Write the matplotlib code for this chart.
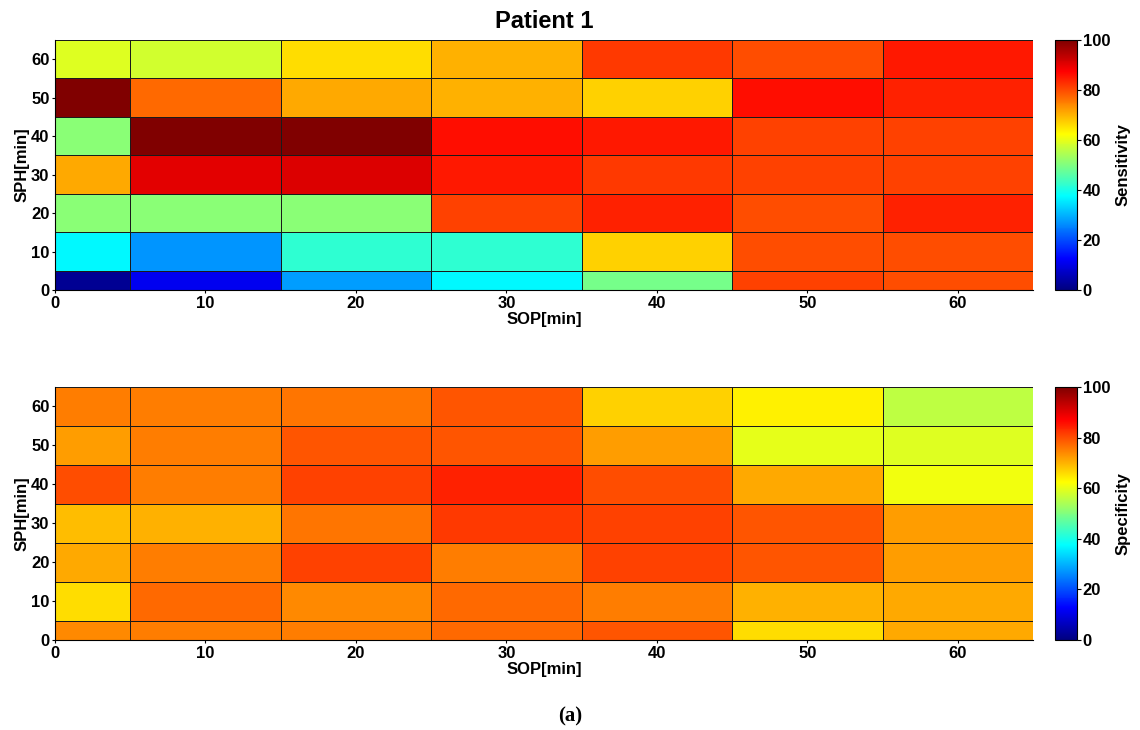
import numpy as np
import matplotlib
matplotlib.use('Agg')
import matplotlib.pyplot as plt
from matplotlib.colors import LinearSegmentedColormap

plt.rcParams['font.family'] = ['Liberation Sans', 'DejaVu Sans']
plt.rcParams['font.weight'] = 'bold'

# cell edges (minutes) for SOP (x) and SPH (y)
sop_edges = [0, 5, 15, 25, 35, 45, 55, 65]
sph_edges = [0, 5, 15, 25, 35, 45, 55, 65]
ticks = [0, 10, 20, 30, 40, 50, 60]

# rows = SPH 0,10,...,60 (bottom to top); cols = SOP 0,10,...,60
sensitivity = [
    [2, 11, 28, 37, 49, 81, 80],
    [37, 27, 42, 42, 67, 80, 80],
    [51, 51, 51, 81, 84, 80, 84],
    [71, 90, 91, 85, 82, 81, 81],
    [51, 100, 100, 86, 85, 81, 81],
    [100, 77, 71, 70, 67, 86, 84],
    [59, 58, 66, 70, 82, 80, 85],
]
specificity = [
    [74, 75, 75, 77, 79, 66, 71],
    [66, 77, 74, 77, 75, 70, 71],
    [71, 75, 81, 75, 81, 79, 72],
    [69, 70, 76, 82, 81, 79, 72],
    [80, 75, 81, 84, 80, 71, 61],
    [72, 75, 79, 79, 72, 60, 59],
    [75, 75, 76, 79, 67, 64, 56],
]

# MATLAB style jet
jet = LinearSegmentedColormap.from_list('mjet', [
    (0.0, (0, 0, 0.5)), (0.125, (0, 0, 1)), (0.375, (0, 1, 1)),
    (0.625, (1, 1, 0)), (0.875, (1, 0, 0)), (1.0, (0.5, 0, 0))], N=256)

fig = plt.figure(figsize=(11.4, 7.3), dpi=100)
W, H = 1140., 730.

def panel(top, bottom, data, label, title=None):
    ax = fig.add_axes([55/W, 1 - bottom/H, 978/W, (bottom - top)/H])
    cax = fig.add_axes([1055/W, 1 - bottom/H, 22/W, (bottom - top)/H])
    m = ax.pcolormesh(sop_edges, sph_edges, np.array(data), cmap=jet,
                      vmin=0, vmax=100, edgecolors='#1a1a1a', linewidth=0.7)
    ax.set_xlim(0, 65)
    ax.set_ylim(0, 65)
    ax.set_xticks(ticks)
    ax.set_yticks(ticks)
    ax.tick_params(labelsize=12, length=2, pad=2)
    for t in ax.get_xticklabels() + ax.get_yticklabels():
        t.set_fontweight('bold')
    for s in ['top', 'right']:
        ax.spines[s].set_visible(False)
    ax.set_xlabel('SOP[min]', fontsize=12, fontweight='bold', labelpad=1)
    ax.set_ylabel('SPH[min]', fontsize=12, fontweight='bold', labelpad=1)
    if title:
        ax.set_title(title, fontsize=17, fontweight='bold', pad=9)
    cb = fig.colorbar(m, cax=cax, ticks=[0, 20, 40, 60, 80, 100])
    cb.ax.tick_params(labelsize=12, length=3, pad=1)
    for t in cb.ax.get_yticklabels():
        t.set_fontweight('bold')
    cb.set_label(label, fontsize=12, fontweight='bold', labelpad=4)
    return ax

panel(40, 290, sensitivity, 'Sensitivity', 'Patient 1')
panel(387, 640, specificity, 'Specificity')

fig.text(570/W, 1 - 716/H, '(a)', ha='center', va='center', fontsize=15,
         fontweight='bold', family=['Liberation Serif', 'DejaVu Serif'])

fig.savefig('out.png', dpi=100)
